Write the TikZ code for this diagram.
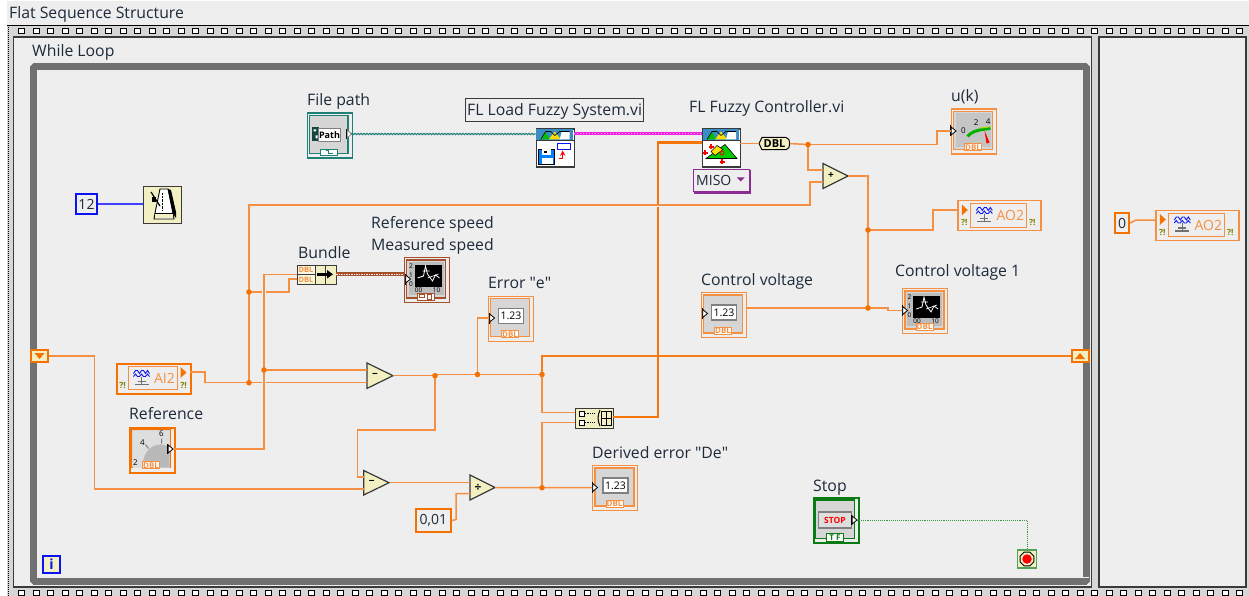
\documentclass[tikz,border=0pt]{standalone}
\usepackage{fontspec}
\setmainfont{Open Sans}
\newfontfamily\qfont{Open Sans}
\usetikzlibrary{decorations.pathmorphing,shapes.geometric}
\definecolor{bgc}{HTML}{EEEEEE}
\definecolor{stripc}{HTML}{D6D6D6}
\definecolor{loopc}{HTML}{707070}
\definecolor{orw}{HTML}{F58F42}
\definecolor{orb}{HTML}{F57200}
\definecolor{creamc}{HTML}{F2F0C2}
\definecolor{edgec}{HTML}{3A3A3A}
\definecolor{tealc}{HTML}{1F8078}
\definecolor{pinkc}{HTML}{F020E0}
\definecolor{brownc}{HTML}{A5502A}
\definecolor{greenc}{HTML}{0A7A14}
\definecolor{bluec}{HTML}{0A14F0}
\definecolor{purplec}{HTML}{8A2C94}
\definecolor{oliv}{HTML}{808000}
\definecolor{labc}{HTML}{1C2A3A}
\newcommand{\lab}{\fontsize{15.8}{18}\selectfont}
\newcommand{\cfnt}{\fontsize{14}{16}\selectfont}
\newcommand{\smallt}{\fontsize{8}{9}\selectfont}
\newcommand{\tinyg}{\fontsize{6.5}{7}\selectfont}
\tikzset{
  wire/.style={draw=orw,line width=1.5pt},
  thickwire/.style={draw=orb!90!orw,line width=2.6pt},
  hop/.style={draw=bgc,line width=3.4pt},
  dotj/.style={circle,fill=orb,inner sep=0pt,minimum size=5.6pt},
  lbl/.style={anchor=base west,inner sep=0pt,text=labc,font=\lab},
  opamp/.style={fill=creamc,draw=edgec,line width=1.2pt,line join=miter},
  pin/.style={fill=white,draw=black,line width=0.8pt},
  ctl/.style={inner sep=0pt,minimum width=45pt,minimum height=45pt,fill=bgc},
  icn/.style={inner sep=0pt,fill=creamc,draw=edgec,line width=1.2pt},
  const/.style={inner sep=0pt,fill=bgc,line width=2pt,text=labc,font=\cfnt},
  tagt/.style={inner sep=0.6pt,font=\smallt\bfseries,text=#1,fill=white,draw=#1,line width=0.8pt},
  smallg/.style={inner sep=0pt,font=\smallt,text=black},
  tinyglyph/.style={inner sep=0pt,font=\tinyg,text=black},
}
\newcommand{\wavesym}{%
  \draw[bluec,line width=0.9pt] (0,0)--(2,-3)--(4,-3)--(6,0)--(8,-3)--(10,-3)--(12,0)--(14,-3)--(16,0);
  \draw[bluec,line width=0.9pt] (0,3)--(2,0.5)--(4,3)--(6,3)--(8,0.5)--(10,3)--(12,3)--(14,0.5)--(16,3);
  \draw[loopc,line width=1.2pt] (8,3)--(8,11) (4,8)--(12,8) (1,11)--(15,11);
}
\newcommand{\warnsym}{\node[inner sep=0pt,font=\fontsize{8.5}{8.5}\selectfont\bfseries,text=oliv] at (0,0) {?!};}
\newcommand{\leftpin}[1]{\fill[black] (#1,-5.5) rectangle ++(1.2,11);\draw[pin] (#1+1.2,-4)--(#1+6,0)--(#1+1.2,4)--cycle;}
\newcommand{\ctlbox}[6]{% name,x0,y0,colour,borderwidth,contents
  \node[ctl,draw=#4,line width=#5,anchor=north west] (#1) at (#2,#3) {};
  \draw[#4,line width=1.3pt,fill=stripc] (#2+3,#3+3) rectangle (#2+42,#3+41);
  \begin{scope}[shift={(#2,#3)}] #6 \end{scope}
}
\newcommand{\dbltag}[2]{\node[tagt=#2,minimum width=17pt,minimum height=7pt] at (22.5,38.7) {#1};}
\newcommand{\graphface}{%
  \fill[stripc!70!gray] (5,5) rectangle (40,38);
  \fill[black] (11,8) rectangle (38,30);
  \draw[white,line width=0.8pt] (14,21)--(20,19)--(22,9)--(24,17)--(29,24)--(32,18)--(36,21);
  \draw[white,line width=0.6pt] (19,14)--(26,14) (24,21)--(35,17);
  \node[tinyglyph] at (7.5,9) {2};\node[tinyglyph] at (7.5,18) {1};\node[tinyglyph] at (7.5,27) {0};
  \node[tinyglyph] at (15,33) {00};\node[tinyglyph] at (33,33) {10};
}
\newcommand{\numface}{%
  \draw[fill=white,draw=gray,line width=1.6pt] (11,13) rectangle (36,28);
  \node[inner sep=0pt,font=\fontsize{10.5}{11}\selectfont,text=black] at (23.5,20.5) {1.23};
}
\begin{document}
\begin{tikzpicture}[x=1pt,y=-1pt]
\useasboundingbox (0,0) rectangle (1249,596);
\fill[white] (0,0) rectangle (1249,596);
\fill[bgc] (7,1) rectangle (1249,25);
\fill[stripc] (7,25) rectangle (1249,596);
\draw[black,line width=1pt] (7,25.5)--(1249,25.5);
\draw[black,line width=1pt,densely dotted] (8,25)--(8,596);
\foreach \i in {0,...,84}{
  \draw[fill=white,draw=black,line width=0.9pt] (21.7+14.5*\i-2.8,28) rectangle ++(5.6,5.6);
  \draw[fill=white,draw=black,line width=0.9pt] (21.7+14.5*\i-2.8,590) rectangle ++(5.6,5.6);
}
\node[lbl] (seqlabel) at (9,19) {Flat Sequence Structure};
\draw[fill=bgc,draw=edgec,line width=1.2pt] (13.5,37) rectangle (1091.5,587);
\draw[fill=bgc,draw=edgec,line width=1.2pt] (1099,37) rectangle (1246,587);
\node[lbl] (looplabel) at (32,56.5) {While Loop};
\draw[loopc,line width=6.8pt,rounded corners=1.5pt] (33.5,66.5) rectangle (1086.5,581.5);
\draw[white!90!gray,line width=1pt] (1080,577.5)--(1089,577.5);
% ---------- nodes ----------
\node[lbl] (lfile) at (307,106) {File path};
\ctlbox{filepath}{306.5}{112.5}{tealc}{1.6pt}{
  \draw[tealc,line width=1pt,fill=stripc] (3,3) rectangle (41,41);
  \fill[tealc!55!black] (5.5,15) rectangle (12,29);
  \fill[white] (7,17) rectangle (9.5,19) (9,23) rectangle (11,26);
  \node[draw=gray,fill=white,inner sep=0.5pt,font=\fontsize{9}{9}\selectfont\bfseries,minimum width=22pt,minimum height=13pt,text=black] at (23,22.5) {Path};
  \node[fill=white,draw=tealc,inner sep=0pt,minimum width=17pt,minimum height=6pt] at (22.5,39.5) {};
  \draw[tealc,line width=0.9pt] (19,38)--(22,38)--(22,41)--(26,41);
}
\node[const,draw=bluec,minimum width=21pt,minimum height=20pt,anchor=north west] (c12) at (75,193) {12};
\node[icn,minimum width=38pt,minimum height=37pt,anchor=north west] (metro) at (143,186) {};
\begin{scope}[shift={(143,186)}]
  \draw[fill=white,draw=black,line width=0.9pt] (17,3)--(25,3)--(30,27)--(31,33)--(11,33)--(12,27)--cycle;
  \fill[creamc] (12,27) rectangle (30,32);
  \draw[black,line width=0.7pt] (12,27)--(30,27);
  \fill[black] (25,3)--(28,4)--(33,26)--(33,32)--(29.5,27)--cycle;
  \draw[black,line width=1.2pt] (8,6)--(17,20);
  \fill[black] (9,11) rectangle (13,16);
  \draw[black,densely dotted] (19,7)--(19,24);
\end{scope}
\node[draw=edgec,fill=bgc,line width=1.2pt,minimum width=178pt,minimum height=23pt,inner sep=0pt,text=labc,font=\lab,text height=13pt,text depth=2pt,anchor=north west] (loadlabel) at (465,98) {FL Load Fuzzy System.vi};
\node[icn,fill=white,minimum width=38pt,minimum height=38pt,anchor=north west] (loadvi) at (535.7,128.5) {};
\begin{scope}[shift={(535.7,128.5)}]
  \fill[blue!40!cyan!55!gray] (0.6,0.6) rectangle (37.4,12);
  \draw[edgec,line width=0.8pt] (0,12)--(38,12);
  \fill[green!75!black] (5,11)--(10,3)--(14,11)--cycle;
  \fill[yellow!80!orange] (13,11)--(19,3)--(25,11)--cycle;
  \fill[white] (24,11)--(26,3)--(34,3)--(34,11)--cycle;
  \draw[black,line width=0.6pt] (5,11)--(10,3)--(15,3)--(19,7)--(24,3)--(34,3);
  \fill[blue!50!cyan] (3,21) rectangle (19,36);
  \draw[black,line width=0.6pt] (3,21) rectangle (19,36);
  \fill[white] (6,21) rectangle (15,27);\fill[black] (8,22.5) rectangle (11,25);
  \fill[white] (6,30) rectangle (17,36);
  \draw[bluec,line width=1pt,fill=white] (22,15) rectangle (35,21);
  \draw[red,line width=1.4pt,->,>=stealth] (23,30)--(27,30)--(27,22);
\end{scope}
\node[lbl] (lctl) at (689,112.7) {FL Fuzzy Controller.vi};
\node[icn,fill=white,minimum width=38pt,minimum height=38pt,anchor=north west] (ctlvi) at (702,128.5) {};
\begin{scope}[shift={(702,128.5)}]
  \fill[blue!40!cyan!55!gray] (0.6,0.6) rectangle (37.4,12);
  \draw[edgec,line width=0.8pt] (0,12)--(38,12);
  \fill[green!75!black] (5,11)--(10,3)--(14,11)--cycle;
  \fill[yellow!80!orange] (13,11)--(19,3)--(25,11)--cycle;
  \fill[white] (24,11)--(26,3)--(34,3)--(34,11)--cycle;
  \draw[black,line width=0.6pt] (5,11)--(10,3)--(15,3)--(19,7)--(24,3)--(34,3);
  \fill[green!80!black,draw=black,line width=0.6pt] (4,30)--(23,16)--(35,30)--cycle;
  \fill[yellow!85!orange,draw=black,line width=0.6pt] (9,23)--(15,17)--(21,21)--(13,27)--cycle;
  \draw[red,line width=1.2pt] (9,16)--(9,21) (6.5,18.5)--(11.5,18.5) (3,22)--(3,27) (0.5,24.5)--(5.5,24.5) (20,31)--(20,36) (17.5,33.5)--(22.5,33.5);
  \draw[red,line width=0.8pt] (20,24.5) circle (2);
\end{scope}
\draw[purplec,line width=1.2pt,fill=bgc] (694.7,170.7) rectangle (750.7,193);
\node[draw=purplec,fill=bgc,line width=1.2pt,minimum width=56pt,minimum height=22pt,inner sep=0pt,anchor=north west] (miso) at (692.7,168.7) {};
\node[inner sep=0pt,font=\cfnt,text=labc,anchor=west] (misotext) at (696,180) {MISO};
\fill[purplec] (737,177.5)--(744.5,177.5)--(740.7,181.5)--cycle;
\draw[black,fill=creamc,line width=1pt] (759,143.6)--(762,137.5)--(786,137.5) .. controls (791,137.5) and (791,149.7) .. (786,149.7) -- (762,149.7) --cycle;
\node[inner sep=0pt,minimum width=31pt,minimum height=13pt,font=\fontsize{11}{11}\selectfont\bfseries,text=black] (dbl) at (774.5,143.6) {DBL};
\node[lbl] (luk) at (951,101.7) {u(k)};
\ctlbox{uk}{950.5}{108.5}{orw}{1.2pt}{
  \fill[stripc!80!gray] (5,5) rectangle (40,39);
  \draw[green!70!black,line width=3pt] (17,28) .. controls (22,22) and (30,21) .. (40,20);
  \draw[yellow!70!green,line width=1.2pt] (30,19.5)--(40,18);
  \fill[red] (34,22)--(36,35)--(39,34)--cycle;
  \node[smallg] at (13,22) {0};\node[smallg] at (25.6,14.3) {2};\node[smallg] at (37.7,12.7) {4};
  \dbltag{DBL}{orw}
}
\node[lbl] (lref1) at (371,228.5) {Reference speed};
\node[lbl] (lref2) at (371,250) {Measured speed};
\ctlbox{refscope}{403.5}{257}{brownc}{1.4pt}{
  \graphface
  \node[fill=white,draw=brownc,inner sep=0pt,minimum width=17pt,minimum height=7pt] at (22.5,39.5) {};
  \draw[brownc,line width=1pt] (16,37.5) rectangle (21,40) (24,37.5) rectangle (28,42);
}
\node[lbl] (lbundle) at (298,258.5) {Bundle};
\node[icn,fill=creamc,minimum width=39pt,minimum height=19pt,anchor=north west] (bundle) at (297,265) {};
\begin{scope}[shift={(297,265)}]
  \fill[white!50!creamc] (0.6,0.6) rectangle (18,18.4);
  \draw[edgec,line width=0.9pt] (0,9.5)--(18,9.5) (18,0)--(18,19) (28.7,0)--(28.7,19);
  \node[inner sep=0pt,font=\fontsize{7.5}{8}\selectfont\bfseries,text=orw] at (9,5) {DBL};
  \node[inner sep=0pt,font=\fontsize{7.5}{8}\selectfont\bfseries,text=orw] at (9,14.5) {DBL};
  \draw[black,line width=3.6pt] (20,9.3)--(32,9.3);
  \fill[black] (30,5)--(36,9.3)--(30,13.5)--cycle;
\end{scope}
\node[lbl] (lerr) at (488,288.5) {Error {\qfont"}e{\qfont"}};
\ctlbox{errind}{487.5}{295.5}{orw}{1.2pt}{\numface\dbltag{DBL}{orw}}
\node[lbl] (lcv) at (701,285) {Control voltage};
\ctlbox{cvctl}{700.5}{292}{orw}{1.2pt}{\numface\dbltag{DBL}{orw}}
\node[lbl] (lcv1) at (895,276.7) {Control voltage 1};
\ctlbox{cvind}{902}{288}{orw}{1.2pt}{\graphface\dbltag{DBL}{orw}}
\node[lbl] (lrefc) at (129,419.5) {Reference};
\ctlbox{refctl}{128.5}{426.5}{orb}{2pt}{
  \fill[stripc!80!white] (4,4) rectangle (41,41);
  \fill[gray!55] (14,41) .. controls (14,14) and (41,14) .. (41,24) -- (41,41) --cycle;
  \node[smallg] at (14,16) {4};\node[smallg] at (33,7.5) {6};\node[smallg] at (7,36) {2};
  \draw[gray,line width=1pt] (17,18)--(20,22) (33,12)--(33,17);
  \dbltag{DBL}{orw}
}
\node[lbl] (lder) at (592,458.5) {Derived error {\qfont"}De{\qfont"}};
\ctlbox{derind}{592}{465}{orw}{1.2pt}{\numface\dbltag{DBL}{orw}}
\node[draw=orb,fill=bgc,line width=2pt,minimum width=74pt,minimum height=30pt,inner sep=0pt,anchor=north west] (ai2) at (115.5,362.5) {};
\begin{scope}[shift={(115.5,362.5)}]
  \draw[orw,line width=1pt] (13,4) rectangle (62,27);
  \begin{scope}[shift={(18,11)}]\wavesym\end{scope}
  \node[inner sep=0pt,font=\fontsize{14}{14}\selectfont,text=orw] at (49,15.5) {AI2};
  \fill[orb] (65,4.5)--(71,10)--(65,15.5)--cycle;
  \begin{scope}[shift={(7,23)}]\warnsym\end{scope}
  \begin{scope}[shift={(68,23)}]\warnsym\end{scope}
\end{scope}
\node[draw=orw,fill=bgc,line width=1.2pt,minimum width=83pt,minimum height=30pt,inner sep=0pt,anchor=north west] (ao2a) at (957.3,200) {};
\begin{scope}[shift={(957.3,200)}]
  \draw[orw,line width=1pt] (13,3.5) rectangle (69.5,27);
  \begin{scope}[shift={(19,10.5)}]\wavesym\end{scope}
  \node[inner sep=0pt,font=\fontsize{14}{14}\selectfont,text=orw] at (53,15.5) {AO2};
  \fill[orb] (4.5,4.5)--(10.5,10)--(4.5,15.5)--cycle;
  \begin{scope}[shift={(7,22.5)}]\warnsym\end{scope}
  \begin{scope}[shift={(75,22.5)}]\warnsym\end{scope}
\end{scope}
\node[draw=orw,fill=bgc,line width=1.2pt,minimum width=83pt,minimum height=30pt,inner sep=0pt,anchor=north west] (ao2b) at (1155.3,209.5) {};
\begin{scope}[shift={(1155.3,209.5)}]
  \draw[orw,line width=1pt] (13,3.5) rectangle (69.5,27);
  \begin{scope}[shift={(19,10.5)}]\wavesym\end{scope}
  \node[inner sep=0pt,font=\fontsize{14}{14}\selectfont,text=orw] at (53,15.5) {AO2};
  \fill[orb] (4.5,4.5)--(10.5,10)--(4.5,15.5)--cycle;
  \begin{scope}[shift={(7,22.5)}]\warnsym\end{scope}
  \begin{scope}[shift={(75,22.5)}]\warnsym\end{scope}
\end{scope}
\node[const,draw=orb,line width=2.2pt,minimum width=14pt,minimum height=20pt,anchor=north west] (c0) at (1114,212) {0};
\node[const,draw=orb,line width=2.2pt,minimum width=35pt,minimum height=23pt,anchor=north west] (c001) at (414.7,508) {0,01};
% ops
\node[minimum width=26pt,minimum height=25pt,inner sep=0pt] (sub1) at (380,375.7) {};
\draw[opamp] (367,363)--(393,375.7)--(367,388.4)--cycle; \node[inner sep=0pt,font=\bfseries] at (375,375.7) {\fontsize{10}{10}\selectfont −};
\node[minimum width=26pt,minimum height=25pt,inner sep=0pt] (sub2) at (376.5,482.7) {};
\draw[opamp] (363.7,470.5)--(389,482.7)--(363.7,495)--cycle; \node[inner sep=0pt,font=\bfseries] at (371.7,482.7) {\fontsize{10}{10}\selectfont −};
\node[minimum width=25pt,minimum height=25pt,inner sep=0pt] (divop) at (482.5,487.5) {};
\draw[opamp] (470,475)--(495,487.5)--(470,500)--cycle; \node[inner sep=0pt,font=\bfseries] at (478,487.5) {\fontsize{12}{12}\selectfont ÷};
\node[minimum width=25pt,minimum height=25pt,inner sep=0pt] (addop) at (835.5,176) {};
\draw[opamp] (823,163.5)--(848,176)--(823,188.5)--cycle; \node[inner sep=0pt,font=\bfseries] at (831,176) {\fontsize{10}{10}\selectfont +};
\node[icn,minimum width=38pt,minimum height=19.5pt,anchor=north west] (build) at (575,408) {};
\begin{scope}[shift={(575,408)}]
  \draw[black,line width=0.7pt,fill=white] (4,3) rectangle (9,8) (4,12) rectangle (9,17);
  \draw[black,line width=0.7pt,densely dotted] (10,5.5)--(20,5.5) (10,14.5)--(20,14.5);
  \draw[black,line width=1pt] (25,2) to[bend right=25] (25,18);
  \draw[black,line width=0.8pt] (26,3) rectangle (36,17) (31,3)--(31,17) (26,10)--(36,10);
\end{scope}
\node[draw=orb,fill=creamc,line width=2pt,minimum width=17pt,minimum height=12.5pt,inner sep=0pt] (tunl) at (39.5,356) {};
\fill[orb] (34.5,353)--(44.5,353)--(39.5,359)--cycle;
\node[draw=orb,fill=creamc,line width=2pt,minimum width=17pt,minimum height=12.5pt,inner sep=0pt] (tunr) at (1080,356) {};
\fill[orb] (1075,359)--(1085,359)--(1080,353)--cycle;
\node[draw=bluec,fill=creamc,line width=2pt,minimum width=17pt,minimum height=17pt,inner sep=0pt,text=bluec,font=\cfnt\bfseries] (iter) at (51.5,564) {i};
\ctlbox{stopb}{812.5}{497}{greenc}{2pt}{
  \fill[stripc] (3,3) rectangle (42,41);
  \draw[greenc,line width=0.8pt] (3,3) rectangle (42,41);
  \node[draw=gray,fill=stripc!80!white,line width=1.2pt,inner sep=0pt,minimum width=33pt,minimum height=16pt,font=\fontsize{8.5}{9}\selectfont\bfseries,text=red] at (22.5,23) {STOP};
  \node[fill=white,draw=greenc,line width=0.8pt,inner sep=0pt,minimum width=17pt,minimum height=8pt,font=\fontsize{8}{8}\selectfont\bfseries,text=greenc] at (22.5,40.5) {T F};
}
\node[lbl] (lstop) at (813,491) {Stop};
\node[draw=greenc!70!white,fill=creamc,line width=1.2pt,minimum width=18.5pt,minimum height=18pt,inner sep=0pt] (stopterm) at (1027,559) {};
\node[regular polygon,regular polygon sides=8,draw=black,fill=creamc,line width=0.9pt,minimum size=15pt,inner sep=0pt] (stoprim) at (1027,559) {};
\node[circle,fill=red,minimum size=9.5pt,inner sep=0pt] (stopdot) at (1027,559) {};
% pins
\begin{scope}[shift={(351,134)}]\fill[black] (-5,-5) rectangle (-3.8,5);\draw[pin,draw=gray] (-3.8,-4)--(0.5,0)--(-3.8,4)--cycle;\end{scope}
\begin{scope}[shift={(950.5,131)}]\leftpin{-0.5}\end{scope}
\begin{scope}[shift={(403.5,279)}]\leftpin{1}\end{scope}
\begin{scope}[shift={(487.5,318)}]\leftpin{1}\end{scope}
\begin{scope}[shift={(700.5,313.5)}]\leftpin{1}\end{scope}
\begin{scope}[shift={(902,310.5)}]\leftpin{-0.5}\end{scope}
\begin{scope}[shift={(592,487.5)}]\leftpin{-0.5}\end{scope}
\begin{scope}[shift={(167,449)}]\fill[black] (0,-5) rectangle (1.2,5);\draw[pin] (1.2,-4)--(6,0)--(1.2,4)--cycle;\end{scope}
\begin{scope}[shift={(851,520)}]\fill[black] (0,-5) rectangle (1.2,5);\draw[pin] (1.2,-4)--(6,0)--(1.2,4)--cycle;\end{scope}
% ---------- connection points ----------
\coordinate (jA) at (808,144.5);
\coordinate (ukin) at (950.5,131);
\coordinate (ukb1) at (937,144.5);
\coordinate (ukb2) at (937,131);
\coordinate (addin1) at (823,170);
\coordinate (addin2) at (823,182);
\coordinate (addb1) at (810,182);
\coordinate (addb2) at (810,205);
\coordinate (jB) at (249,292);
\coordinate (jC) at (249,382.7);
\coordinate (jD) at (264,370);
\coordinate (jE) at (868,230);
\coordinate (jF) at (868,308);
\coordinate (jG) at (435,375.7);
\coordinate (jG2) at (435,374.5);
\coordinate (jH) at (477.5,374.5);
\coordinate (jI) at (542,374.5);
\coordinate (jJ) at (542,487.7);
\coordinate (fileout) at (351,134);
\coordinate (loadin) at (535.7,134);
\coordinate (loadout) at (573.7,133.7);
\coordinate (ctlin) at (702,133.7);
\coordinate (ctlin2) at (702,142.7);
\coordinate (ctlout) at (740,143.6);
\coordinate (cvout) at (745.5,308);
\coordinate (cvpt) at (888,308);
\coordinate (cvpt2) at (888,310.5);
\coordinate (cvin) at (902,310.5);
\coordinate (ao2in) at (957.3,210);
\coordinate (ao2b1) at (933,230);
\coordinate (ao2b2) at (933,210);
\coordinate (bu1) at (297,274.5);
\coordinate (bu2) at (297,279);
\coordinate (bu3) at (289,279);
\coordinate (bu4) at (289,292);
\coordinate (ai2out) at (190,372);
\coordinate (ai2b1) at (205,372);
\coordinate (ai2b2) at (205,382.7);
\coordinate (s1a) at (367,370);
\coordinate (s1b) at (367,382.7);
\coordinate (refout) at (173,449);
\coordinate (refb1) at (264,449);
\coordinate (refb2) at (264,274.5);
\coordinate (bunout) at (336,274);
\coordinate (scopein) at (403.5,274);
\coordinate (eb1) at (435,430);
\coordinate (eb2) at (357.7,430);
\coordinate (eb3) at (357.7,477);
\coordinate (s2a) at (363.7,477);
\coordinate (s2b) at (363.7,489);
\coordinate (errin) at (487.5,318);
\coordinate (errb) at (477.5,318);
\coordinate (up1) at (542,356);
\coordinate (tunin) at (1071,356);
\coordinate (bld1) at (575,412.7);
\coordinate (bld2) at (575,422.7);
\coordinate (bld1b) at (542,412.7);
\coordinate (bld2b) at (542,422.7);
\coordinate (tl1) at (94.5,356);
\coordinate (tl2) at (94.5,489);
\coordinate (dv1) at (470,482.7);
\coordinate (dv2) at (470,493.7);
\coordinate (dvb1) at (456,519.5);
\coordinate (dvb2) at (456,493.7);
\coordinate (dero) at (592,487.7);
\coordinate (z1) at (1133,221.5);
\coordinate (z2) at (1136,220);
\coordinate (z3) at (1155.3,220);
\coordinate (bo1) at (613,417);
\coordinate (bo2) at (658,417);
\coordinate (bo3) at (658,142.7);
\coordinate (hv1) at (650,205);
\coordinate (hv2) at (666,205);
\coordinate (st1) at (857,520);
\coordinate (st2) at (1027,520);
% ---------- wires ----------
\draw[draw=tealc,line width=1.1pt,decorate,decoration={snake,amplitude=0.6pt,segment length=3pt}] (fileout) -- (loadin);
\draw[pinkc,line width=3.4pt] (loadout) -- (ctlin);
\draw[white!60!pinkc,line width=0.8pt,dash pattern=on 0.8pt off 2.2pt] (loadout) -- (ctlin);
\draw[wire,draw=blue!75!white] (c12) -- (metro.west|-c12);
\draw[wire] (ctlout) -- (dbl.west);
\draw[wire] (dbl.east) -- (jA);
\draw[wire] (jA) -- (ukb1) -- (ukb2) -- (ukin);
\draw[wire] (jA) |- (addin1);
\draw[wire] (jC) -- (jB) -- (addb2 -| jB) -- (addb2) -- (addb1) -- (addin2);
\draw[wire] (addop.east) -| (jF);
\draw[wire] (jE) -- (ao2b1) -- (ao2b2) -- (ao2in);
\draw[wire] (cvout) -- (jF) -- (cvpt) -- (cvpt2) -- (cvin);
\draw[wire] (jB) -- (bu4) -- (bu3) -- (bu2);
\draw[wire] (ai2out) -- (ai2b1) -- (ai2b2) -- (jC);
\draw[wire] (jC) -- (s1b);
\draw[wire] (jD) -- (s1a);
\draw[hop] (264,286) -- (264,298) (264,377) -- (264,389);
\draw[wire] (refout) -- (refb1) -- (refb2) -- (bu1);
\draw[brownc,line width=3.4pt] (bunout) -- (scopein);
\draw[bgc,line width=0.7pt,dash pattern=on 1.5pt off 1pt] (bunout) -- (scopein);
\draw[wire] (sub1.east) -- (jG) -- (jG2) -- (jH) -- (jI);
\draw[wire] (jG) -- (eb1) -- (eb2) -- (eb3) -- (s2a);
\draw[wire] (jH) -- (errb) -- (errin);
\draw[wire,line width=1.8pt,draw=orb!60!orw] (jI) -- (up1) -- (tunin);
\draw[wire] (jI) -- (bld1b) -- (bld1);
\draw[wire] (jJ) -- (bld2b) -- (bld2);
\draw[wire] (tunl.east) -- (tl1) -- (tl2) -- (s2b);
\draw[wire] (sub2.east) -- (dv1);
\draw[wire] (c001.east) -- (dvb1) -- (dvb2) -- (dv2);
\draw[wire] (divop.east) -- (jJ) -- (dero);
\draw[wire] (c0.east) -- (z1) -- (z2) -- (z3);
\draw[thickwire] (bo1) -- (bo2) -- (bo3) -- (ctlin2);
\draw[hop,line width=3pt] (hv1) -- (hv2);
\draw[wire] (hv1) -- (hv2);
\draw[greenc!80!white,line width=0.9pt,densely dotted] (st1) -- (st2) -- (stopterm.north);
\foreach \j in {jA,jB,jC,jD,jE,jF,jG,jH,jI,jJ} \node[dotj] at (\j) {};
\end{tikzpicture}
\end{document}
